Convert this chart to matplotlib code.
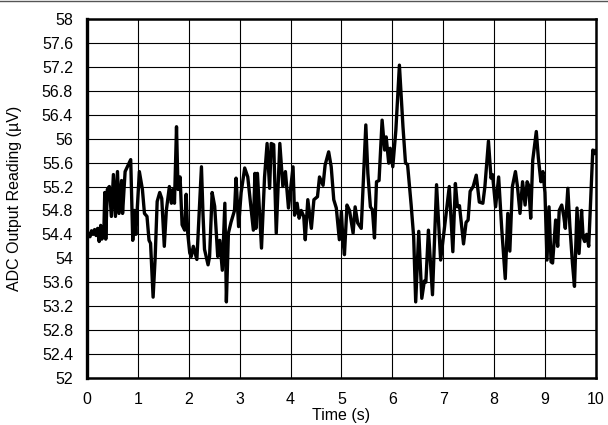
import matplotlib
matplotlib.use('Agg')
import matplotlib.pyplot as plt
from matplotlib.lines import Line2D

plt.rcParams['font.family'] = ['Liberation Sans', 'DejaVu Sans']

# time (s) and ADC reading (uV)
time_s = [
    0.00, 0.03, 0.06, 0.09, 0.12, 0.15, 0.18, 0.21, 0.24, 0.27, 0.29, 0.33,
    0.35, 0.37, 0.40, 0.44, 0.48, 0.52, 0.56, 0.60, 0.63, 0.68, 0.70, 0.75,
    0.86, 0.90, 0.93, 0.96, 1.03, 1.09, 1.13, 1.18, 1.22, 1.25, 1.30, 1.34,
    1.38, 1.43, 1.47, 1.52, 1.56, 1.62,
    1.66, 1.69, 1.72, 1.76, 1.79, 1.83, 1.87, 1.92, 1.95, 1.98, 2.02, 2.05,
    2.09, 2.16, 2.25, 2.28, 2.31, 2.38, 2.41, 2.46, 2.51, 2.57, 2.61, 2.66,
    2.71, 2.74, 2.78, 2.83, 2.90, 2.93, 2.98, 3.03, 3.10, 3.16, 3.23, 3.27,
    3.30, 3.32, 3.35, 3.43, 3.49, 3.54, 3.59, 3.62, 3.67, 3.72, 3.79, 3.85,
    3.90, 3.96, 4.05, 4.08, 4.13, 4.17, 4.21, 4.26, 4.29, 4.34, 4.41, 4.46,
    4.53, 4.57, 4.64, 4.68, 4.75, 4.80, 4.85, 4.90, 4.96,
    5.00, 5.03, 5.06, 5.11, 5.16, 5.23, 5.27, 5.32, 5.39, 5.48, 5.52, 5.57,
    5.61, 5.65, 5.69, 5.74, 5.80, 5.85, 5.88, 5.93, 5.96, 6.01, 6.07, 6.14,
    6.21, 6.26, 6.30, 6.37, 6.42, 6.46, 6.52, 6.58, 6.63, 6.66, 6.71, 6.79,
    6.87, 6.95, 7.02, 7.12, 7.19, 7.24, 7.28, 7.32, 7.40, 7.45, 7.49, 7.53,
    7.59, 7.65, 7.71, 7.78, 7.82, 7.89, 7.94, 7.97, 8.03, 8.09, 8.15, 8.22,
    8.27, 8.31, 8.36, 8.42, 8.46, 8.51, 8.56, 8.61, 8.65, 8.68, 8.72, 8.76,
    8.83, 8.87, 8.92, 8.96, 9.00, 9.04, 9.08, 9.12, 9.15, 9.21, 9.25, 9.28,
    9.33, 9.37, 9.40, 9.45, 9.49, 9.54, 9.58, 9.63, 9.67, 9.72, 9.75, 9.78,
    9.82, 9.86, 9.91, 9.94, 9.98, 10.00,
]
reading_uv = [
    54.30, 54.42, 54.36, 54.46, 54.40, 54.48, 54.38, 54.50, 54.28, 54.55, 54.32, 54.36,
    55.10, 54.32, 55.15, 55.20, 54.70, 55.40, 54.70, 55.45, 54.75, 55.30, 54.75, 55.45,
    55.65, 54.30, 54.80, 54.40, 55.45, 55.15, 54.75, 54.70, 54.30, 54.25, 53.35, 54.00,
    54.95, 55.10, 55.00, 54.20, 54.80, 55.20,
    54.92, 55.15, 54.92, 56.20, 55.15, 55.36, 54.56, 54.47, 55.07, 54.42, 54.09, 54.03,
    54.20, 53.98, 55.53, 54.75, 54.15, 53.89, 54.03, 55.10, 54.87, 54.03, 54.30, 53.80,
    54.92, 53.27, 54.42, 54.60, 54.80, 55.34, 54.53, 55.10, 55.51, 55.36, 54.80, 54.47,
    55.42, 54.50, 55.42, 54.17, 55.36, 55.92, 55.17, 55.92, 55.90, 54.42, 55.92, 55.20,
    55.45, 54.84, 55.53, 54.72, 54.92, 54.67, 54.80, 54.70, 54.31, 54.98, 54.50, 54.98,
    55.03, 55.36, 55.22, 55.56, 55.78, 55.53, 54.98, 54.84, 54.31,
    54.78, 54.31, 54.06, 54.89, 54.80, 54.42, 54.86, 54.59, 54.50, 56.23, 55.42, 54.86,
    54.81, 54.34, 55.28, 55.30, 56.31, 55.81, 56.03, 55.59, 55.84, 55.53, 56.14, 57.23,
    56.20, 55.59, 55.57, 54.90, 54.36, 53.27, 54.45, 53.33, 53.62, 53.60, 54.47, 53.39,
    55.23, 53.97, 54.47, 55.20, 54.11, 55.25, 54.86, 54.88, 54.24, 54.60, 54.64, 55.12,
    55.20, 55.39, 54.94, 54.92, 55.20, 55.96, 55.34, 55.40, 54.86, 55.36, 54.50, 53.66,
    54.75, 54.12, 55.20, 55.45, 55.20, 54.75, 55.28, 54.89, 55.28, 55.22, 54.67, 55.64,
    56.12, 55.68, 55.28, 55.45, 55.10, 53.97, 54.86, 53.94, 53.92, 54.64, 54.20, 54.80,
    54.89, 54.70, 54.50, 55.17, 54.53, 53.92, 53.53, 54.84, 54.08, 54.80, 54.35, 54.28,
    54.40, 54.20, 55.20, 55.81, 55.75, 55.80,
]

x_ticks = list(range(0, 11))
y_ticks = [52 + 0.4 * i for i in range(16)]
y_labels = ['52', '52.4', '52.8', '53.2', '53.6', '54', '54.4', '54.8',
            '55.2', '55.6', '56', '56.4', '56.8', '57.2', '57.6', '58']

fig = plt.figure(figsize=(6.08, 4.25), dpi=100)
ax = fig.add_axes([0.143, 0.111, 0.837, 0.844])

ax.plot(time_s, reading_uv, color='black', lw=2.4, solid_joinstyle='round')

ax.set_xlim(0, 10)
ax.set_ylim(52, 58)
ax.set_xticks(x_ticks)
ax.set_xticklabels([str(t) for t in x_ticks])
ax.set_yticks(y_ticks)
ax.set_yticklabels(y_labels)
ax.tick_params(length=0, labelsize=11.5)
ax.tick_params(axis='y', pad=10)
ax.tick_params(axis='x', pad=10)
ax.grid(True, color='black', lw=0.8)
ax.set_axisbelow(True)
for s in ax.spines.values():
    s.set_linewidth(1.8)
ax.spines['left'].set_linewidth(2.4)

ax.set_xlabel('Time (s)', fontsize=11.5, labelpad=1)
ax.set_ylabel('ADC Output Reading (\u00b5V)', fontsize=11.5, labelpad=14)

# thin border line at the top of the figure
fig.add_artist(Line2D([0, 1], [0.998, 0.998], color='#555555', lw=1.0,
                      transform=fig.transFigure))

fig.savefig('out.png', dpi=100)
